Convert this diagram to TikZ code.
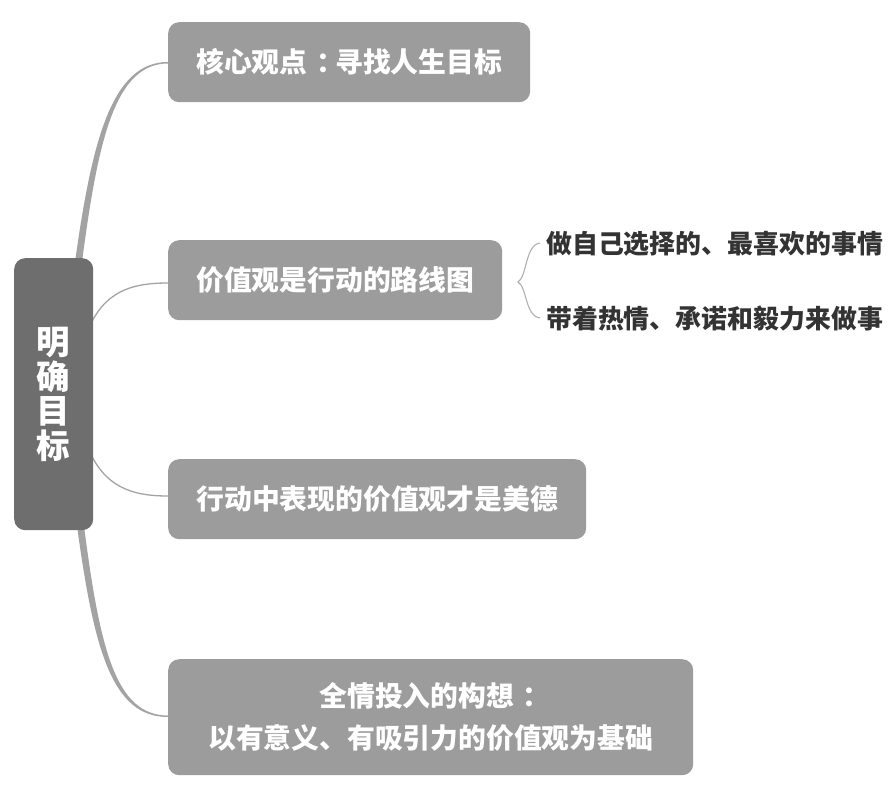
\documentclass[tikz,border=0pt]{standalone}
\usepackage{fontspec}
\setmainfont{Noto Sans CJK SC}
\definecolor{rootfill}{HTML}{6E6E6E}
\definecolor{nodefill}{HTML}{9C9C9C}
\definecolor{connc}{HTML}{A3A3A3}
\definecolor{bracec}{HTML}{B0B0B0}
\definecolor{leaftext}{HTML}{333333}
\newcommand{\ccolon}{\kern0.32em：\kern-0.32em}
\tikzset{
  rootbox/.style={fill=rootfill, rounded corners=11pt, text=white, anchor=north west,
    minimum width=79pt, minimum height=272pt, inner sep=0pt, align=center,
    font=\fontsize{33.5}{35}\selectfont\bfseries},
  topicbox/.style={fill=nodefill, rounded corners=11pt, text=white, anchor=north west,
    minimum height=80pt, inner sep=0pt, align=center,
    font=\fontsize{27.8}{42}\selectfont\bfseries},
  leaftxt/.style={anchor=west, inner sep=0pt, text=leaftext,
    font=\fontsize{25.9}{30}\selectfont\bfseries},
  thinconn/.style={draw=connc, line width=1.3pt},
  thickconn/.style={fill=connc},
  bracestyle/.style={draw=bracec, line width=1.1pt}
}
\begin{document}
\begin{tikzpicture}[x=1pt,y=-1pt]
\useasboundingbox (0,0) rectangle (893,787);
% tapered connectors (behind root)
\fill[thickconn] (75,262) .. controls (92,140) and (112,62) .. (168,62)
   -- (168,63.5) .. controls (115,63.5) and (98,140) .. (82,262) -- cycle;
\fill[thickconn] (77,526) .. controls (94,650) and (112,717) .. (168,717)
   -- (168,715.5) .. controls (116,715.5) and (100,650) .. (84,526) -- cycle;
\draw[thinconn] (88,330) .. controls (104,292) and (130,283) .. (168,283);
\draw[thinconn] (88,448) .. controls (104,486) and (130,496) .. (168,496);
% root
\node[rootbox] (root) at (14,258) {明\\[-0.5pt]确\\[-0.5pt]目\\[-0.5pt]标};
% topics
\node[topicbox, minimum width=362pt] (t1) at (168,22) {核心观点\ccolon 寻找人生目标};
\node[topicbox, minimum width=334pt] (t2) at (168,240) {价值观是行动的路线图};
\node[topicbox, minimum width=418pt] (t3) at (168,459) {行动中表现的价值观才是美德};
\node[topicbox, minimum width=525pt, minimum height=116pt] (t4) at (168,659)
   {全情投入的构想\ccolon\\以有意义、有吸引力的价值观为基础};
% brace
\coordinate (btop) at (540,243);
\coordinate (bmid) at (518,282);
\coordinate (bbot) at (540,318);
\draw[bracestyle] (btop) .. controls (525,245) and (527,277) .. (bmid)
   .. controls (527,287) and (525,316) .. (bbot);
% leaves
\node[leaftxt] (l1) at (546,244) {做自己选择的、最喜欢的事情};
\node[leaftxt] (l2) at (546,318) {带着热情、承诺和毅力来做事};
\end{tikzpicture}
\end{document}
